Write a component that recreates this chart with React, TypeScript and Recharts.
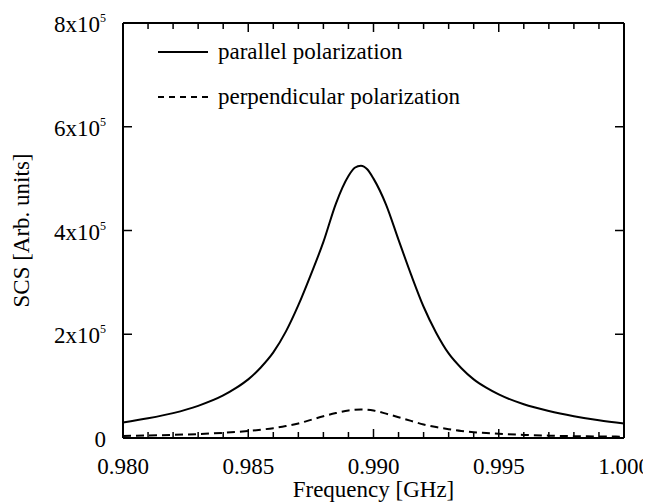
import { LineChart, Line, XAxis, YAxis, Legend, Label } from 'recharts';

const FONT = "'Liberation Serif', 'Times New Roman', serif";

// frequency in GHz
const freq = [
  0.98, 0.981, 0.982, 0.983, 0.984, 0.9845, 0.985, 0.9855, 0.986, 0.9865, 0.987, 0.9875, 0.988, 0.9885,
  0.989, 0.98925, 0.9895, 0.98975, 0.99, 0.9905, 0.991, 0.9915, 0.992, 0.9925, 0.993, 0.9935, 0.994,
  0.9945, 0.995, 0.996, 0.997, 0.998, 0.999, 1.0,
];

// SCS values, in units of 1e5
const parallel = [
  0.3, 0.38, 0.48, 0.62, 0.82, 0.96, 1.13, 1.36, 1.65, 2.05, 2.56, 3.15, 3.78, 4.52, 5.05, 5.21, 5.25, 5.18,
  5.0, 4.5, 3.82, 3.15, 2.53, 2.03, 1.63, 1.35, 1.13, 0.97, 0.84, 0.65, 0.52, 0.42, 0.34, 0.28,
];
const perpendicular = [
  0.04, 0.05, 0.06, 0.075, 0.1, 0.115, 0.135, 0.16, 0.19, 0.23, 0.28, 0.35, 0.42, 0.48, 0.53, 0.545, 0.55,
  0.545, 0.53, 0.47, 0.4, 0.33, 0.26, 0.21, 0.17, 0.135, 0.11, 0.095, 0.08, 0.06, 0.045, 0.035, 0.03, 0.025,
];

const xTicks = [
  0.98, 0.981, 0.982, 0.983, 0.984, 0.985, 0.986, 0.987, 0.988, 0.989, 0.99, 0.991, 0.992, 0.993, 0.994,
  0.995, 0.996, 0.997, 0.998, 0.999, 1.0,
];
const yTicks = [0, 200000, 400000, 600000, 800000];

const data = freq.map((f, i) => ({
  f,
  par: parallel[i] * 1e5,
  perp: perpendicular[i] * 1e5,
}));

const isMajor = (v: number) => Math.round(v * 1000) % 5 === 0;

const BottomTick = (props: any) => {
  const { x, y, payload } = props;
  const major = isMajor(payload.value);
  return (
    <g>
      <line x1={x} x2={x} y1={y} y2={y - (major ? 9 : 6)} stroke="#000" strokeWidth={1.5} />
      {major && (
        <text x={x} y={y + 36} textAnchor="middle" fontSize={23} fontFamily={FONT} fill="#000">
          {payload.value.toFixed(3)}
        </text>
      )}
    </g>
  );
};

const TopTick = (props: any) => {
  const { x, y, payload } = props;
  const major = isMajor(payload.value);
  return <line x1={x} x2={x} y1={y} y2={y + (major ? 9 : 6)} stroke="#000" strokeWidth={1.5} />;
};

const LeftTick = (props: any) => {
  const { x, y, payload } = props;
  const v = payload.value;
  return (
    <g>
      <line x1={x} x2={x + 9} y1={y} y2={y} stroke="#000" strokeWidth={1.5} />
      <text x={x - 17} y={y + 9} textAnchor="end" fontSize={23} fontFamily={FONT} fill="#000">
        {v === 0 ? (
          '0'
        ) : (
          <>
            {`${v / 1e5}x10`}
            <tspan fontSize={12} dy={-10}>
              5
            </tspan>
          </>
        )}
      </text>
    </g>
  );
};

const RightTick = (props: any) => {
  const { x, y } = props;
  return <line x1={x} x2={x - 9} y1={y} y2={y} stroke="#000" strokeWidth={1.5} />;
};

const LegendBox = () => (
  <svg width={360} height={80}>
    <line x1={10} x2={60} y1={14} y2={14} stroke="#000" strokeWidth={2} />
    <text x={70} y={21} fontSize={23} fontFamily={FONT} fill="#000">
      parallel polarization
    </text>
    <line x1={10} x2={60} y1={59} y2={59} stroke="#000" strokeWidth={2} strokeDasharray="6 5" />
    <text x={70} y={66} fontSize={23} fontFamily={FONT} fill="#000">
      perpendicular polarization
    </text>
  </svg>
);

const axisLine = { stroke: '#000', strokeWidth: 2 };

export default function App() {
  return (
    <div style={{ width: 643, height: 494, background: '#fff' }}>
      <LineChart width={643} height={494} data={data} margin={{ top: 14, right: 26, left: 0, bottom: 0 }}>
        <XAxis
          dataKey="f"
          type="number"
          domain={[0.98, 1.0]}
          ticks={xTicks}
          interval={0}
          height={64}
          tickSize={0}
          tickMargin={0}
          tickLine={false}
          axisLine={axisLine}
          tick={(p: any) => <BottomTick {...p} />}
        >
          <Label
            value="Frequency [GHz]"
            position="insideBottom"
            offset={5}
            style={{ fontSize: 23, fontFamily: FONT, fill: '#000' }}
          />
        </XAxis>
        <XAxis
          xAxisId="top"
          dataKey="f"
          orientation="top"
          type="number"
          domain={[0.98, 1.0]}
          ticks={xTicks}
          interval={0}
          height={1}
          tickSize={0}
          tickMargin={0}
          tickLine={false}
          axisLine={axisLine}
          tick={(p: any) => <TopTick {...p} />}
        />
        <YAxis
          type="number"
          domain={[0, 800000]}
          ticks={yTicks}
          interval={0}
          width={115}
          tickSize={0}
          tickMargin={0}
          tickLine={false}
          axisLine={axisLine}
          tick={(p: any) => <LeftTick {...p} />}
        >
          <Label
            value="SCS [Arb. units]"
            angle={-90}
            position="insideLeft"
            offset={13}
            style={{ fontSize: 23, fontFamily: FONT, fill: '#000', textAnchor: 'middle' }}
          />
        </YAxis>
        <YAxis
          yAxisId="right"
          orientation="right"
          type="number"
          domain={[0, 800000]}
          ticks={yTicks}
          interval={0}
          width={1}
          tickSize={0}
          tickMargin={0}
          tickLine={false}
          axisLine={axisLine}
          tick={(p: any) => <RightTick {...p} />}
        />
        <Legend
          layout="horizontal"
          verticalAlign="middle"
          align="center"
          wrapperStyle={{ position: 'absolute', top: 30, left: 140, width: 360, height: 80 }}
          content={() => <LegendBox />}
        />
        <Line
          type="monotone"
          dataKey="par"
          stroke="#000"
          strokeWidth={2}
          dot={false}
          isAnimationActive={false}
        />
        <Line
          type="monotone"
          dataKey="perp"
          stroke="#000"
          strokeWidth={2}
          strokeDasharray="8 5"
          dot={false}
          isAnimationActive={false}
        />
        {/* invisible series so the mirrored top/right axes get drawn */}
        <Line
          xAxisId="top"
          yAxisId="right"
          dataKey="par"
          stroke="none"
          dot={false}
          activeDot={false}
          legendType="none"
          isAnimationActive={false}
        />
      </LineChart>
    </div>
  );
}
